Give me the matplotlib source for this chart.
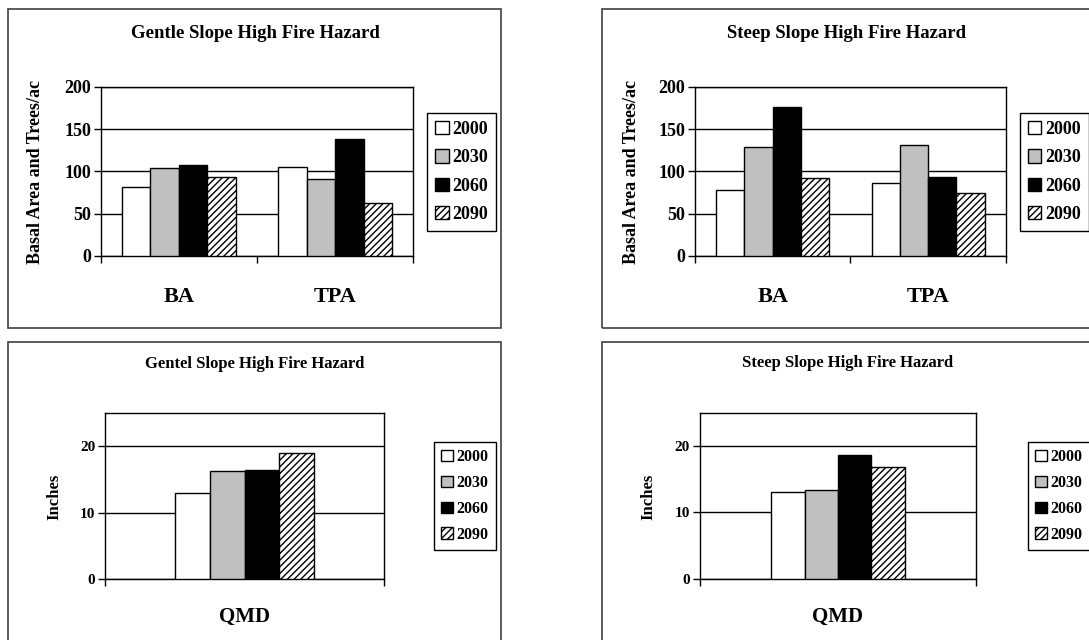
import matplotlib
matplotlib.use('Agg')
import matplotlib.pyplot as plt
from matplotlib.patches import Rectangle, Patch

plt.rcParams['font.family'] = ['Liberation Serif', 'DejaVu Serif']
plt.rcParams['font.weight'] = 'bold'
plt.rcParams['hatch.linewidth'] = 1.0

years = ['2000', '2030', '2060', '2090']
top_cats = ['BA', 'TPA']
bot_cats = ['QMD']

gentle_ba_tpa = [[82, 105], [103.5, 91], [108, 138], [93, 62.5]]
steep_ba_tpa = [[77.6, 86.6], [128.3, 131.5], [175.6, 93.3], [91.7, 74.8]]
gentle_qmd = [[13.0], [16.3], [16.4], [19.0]]
steep_qmd = [[13.1], [13.3], [18.6], [16.8]]

colors = ['white', '#c0c0c0', 'black', 'white']
hatches = [None, None, None, '/////']

W, H = 1089, 640
fig = plt.figure(figsize=(W / 100, H / 100), dpi=100)


def box(l, t, r, b):
    # pixel box -> figure fraction rect
    return [l / W, 1 - b / H, (r - l) / W, (b - t) / H]


def panel(frame, plot, title, title_xy, ylabel, ylabel_xy, cats, vals,
          ymax, yticks, width, leg_xy, small):
    fl, ft, fr, fb = frame
    fig.patches.append(Rectangle((fl / W, 1 - fb / H), (fr - fl) / W, (fb - ft) / H,
                                 transform=fig.transFigure, fill=False,
                                 edgecolor='#404040', lw=1.2))
    ax = fig.add_axes(box(*plot))
    n = len(cats)
    for j in range(4):
        xs = [i + (j - 1.5) * width for i in range(n)]
        ax.bar(xs, vals[j], width=width, color=colors[j], edgecolor='black',
               lw=1, hatch=hatches[j], label=years[j], zorder=3)
    ax.set_xlim(-0.5, n - 0.5)
    ax.set_ylim(0, ymax)
    ax.set_yticks(yticks)
    ax.set_axisbelow(True)
    ax.yaxis.grid(True, color='black', lw=1)
    for s in ax.spines.values():
        s.set_color('black')
        s.set_linewidth(1)
    ax.set_xticks([i - 0.5 for i in range(n + 1)])
    ax.set_xticklabels([])
    ax.set_xticks(range(n), cats, minor=True)
    ax.tick_params(axis='x', which='major', direction='out', length=5, width=1)
    ax.tick_params(axis='x', which='minor', length=0, pad=20 if small else 22,
                   labelsize=15 if small else 16)
    ax.tick_params(axis='y', direction='out', length=5, width=1, pad=2,
                   labelsize=11 if small else 13)
    for lab in ax.get_xticklabels(minor=True) + ax.get_yticklabels():
        lab.set_fontweight('bold')

    fig.text(title_xy[0] / W, 1 - title_xy[1] / H, title, ha='center', va='center',
             fontsize=12 if small else 13.5, fontweight='bold')
    fig.text(ylabel_xy[0] / W, 1 - ylabel_xy[1] / H, ylabel, ha='center', va='center',
             rotation=90, fontsize=12 if small else 13, fontweight='bold')

    handles = [Patch(facecolor=colors[j], edgecolor='black', hatch=hatches[j],
                     label=years[j]) for j in range(4)]
    leg = ax.legend(handles=handles, loc='upper left',
                    bbox_to_anchor=(leg_xy[0] / W, 1 - leg_xy[1] / H),
                    bbox_transform=fig.transFigure, borderaxespad=0,
                    fancybox=False, edgecolor='black', framealpha=1,
                    handlelength=0.75, handleheight=0.75, handletextpad=0.2,
                    labelspacing=0.62,
                    prop={'weight': 'bold', 'size': 11.5 if small else 13},
                    borderpad=0.45)
    leg.get_frame().set_linewidth(1)
    return ax


panel((8, 9, 501, 328), (100.7, 86.7, 413.3, 256),
      'Gentle Slope High Fire Hazard', (255, 33),
      'Basal Area and Trees/ac', (36, 172),
      top_cats, gentle_ba_tpa, 200, [0, 50, 100, 150, 200], 0.1818,
      (427, 113), False)

panel((602, 9, 1095, 328), (695, 86.7, 1005.7, 256),
      'Steep Slope High Fire Hazard', (847, 33),
      'Basal Area and Trees/ac', (631, 172),
      top_cats, steep_ba_tpa, 200, [0, 50, 100, 150, 200], 0.1818,
      (1019.7, 113), False)

panel((8, 342, 501, 661), (105, 413, 384, 579),
      'Gentel Slope High Fire Hazard', (255, 364),
      'Inches', (54, 497),
      bot_cats, gentle_qmd, 25, [0, 10, 20], 0.124,
      (434, 442), True)

panel((602, 342, 1095, 661), (699.7, 412.7, 976.3, 578.7),
      'Steep Slope High Fire Hazard', (848, 363),
      'Inches', (648, 497),
      bot_cats, steep_qmd, 25, [0, 10, 20], 0.121,
      (1028, 442), True)

fig.savefig('out.png', dpi=100)
